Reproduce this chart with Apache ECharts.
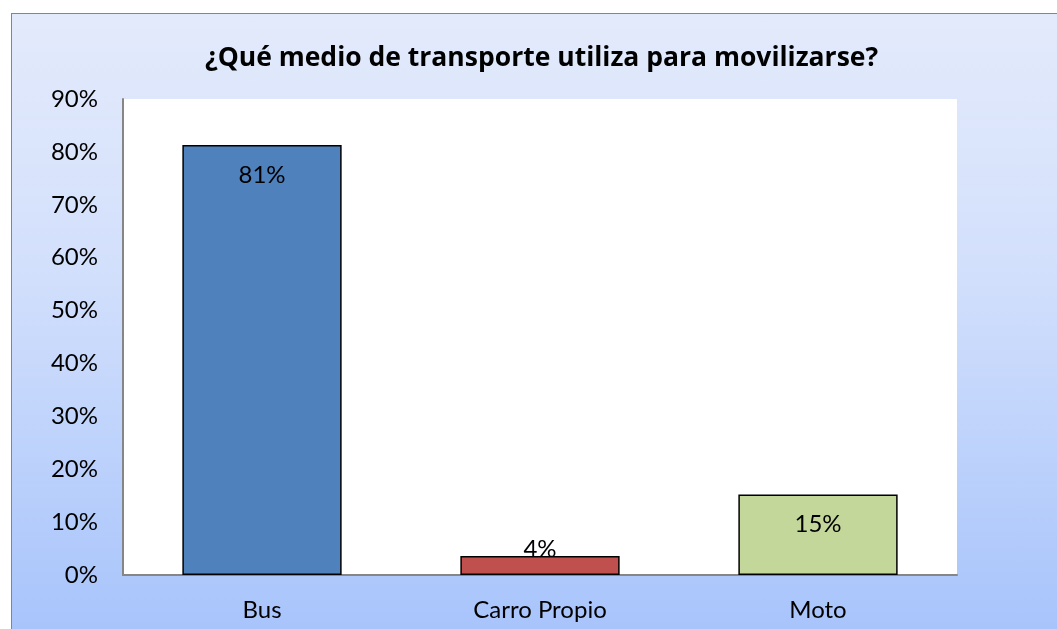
<!DOCTYPE html>
<html>
<head>
<meta charset="utf-8">
<script src="https://cdn.jsdelivr.net/npm/echarts@6/dist/echarts.min.js"></script>
<style>
  html, body { margin: 0; padding: 0; background: #fff; }
  #frame {
    position: absolute; left: 11px; top: 13px; width: 1060px; height: 630px;
    border-left: 1.5px solid #5b8ccc; border-top: 1.5px solid #5b8ccc;
    background: linear-gradient(to bottom, #e3eafb 0%, #d3e0fc 40%, #a6c3fb 100%);
  }
  #chart { position: absolute; left: 0; top: 0; width: 1057px; height: 629px; }
</style>
</head>
<body>
<div id="frame"></div>
<div id="chart"></div>
<script>
const titleText = '¿Qué medio de transporte utiliza para movilizarse?';
const categories = ['Bus', 'Carro Propio', 'Moto'];
const values = [81.3, 3.6, 15.2];
const labels = ['81%', '4%', '15%'];
const colors = ['#4f81bd', '#c0504d', '#c4d79b'];

const font = 'Lato, "Open Sans", sans-serif';

const chart = echarts.init(document.getElementById('chart'), null, { renderer: 'canvas' });
chart.setOption({
  backgroundColor: 'transparent',
  animation: false,
  title: {
    text: titleText, left: 200, top: 40,
    textStyle: { fontFamily: '"Open Sans", sans-serif', fontSize: 26.5, fontWeight: 'bold', color: '#000' }
  },
  grid: { left: 123, right: 100, top: 99, bottom: 54, show: true, backgroundColor: '#fff', borderWidth: 0 },
  xAxis: {
    type: 'category', data: categories,
    axisLine: { lineStyle: { color: '#868686', width: 2 } },
    axisTick: { show: false },
    axisLabel: { fontFamily: font, fontSize: 24, color: '#000', margin: 23 }
  },
  yAxis: {
    type: 'value', min: 0, max: 90, interval: 10,
    axisLine: { show: true, lineStyle: { color: '#868686', width: 2 } },
    axisTick: { show: false },
    splitLine: { show: false },
    axisLabel: { fontFamily: font, fontSize: 24, color: '#000', margin: 25, formatter: v => v + '%' }
  },
  series: [{
    type: 'bar', barWidth: '57.3%',
    data: values.map((v, i) => ({
      value: v,
      itemStyle: { color: colors[i], borderColor: '#000', borderWidth: 1.5 },
      label: v < 8
        ? { show: true, position: 'top', distance: -5 }
        : { show: true, position: 'insideTop', distance: 18 }
    })),
    label: {
      fontFamily: font, fontSize: 24, color: '#000',
      formatter: p => labels[p.dataIndex]
    }
  }]
});
</script>
</body>
</html>
